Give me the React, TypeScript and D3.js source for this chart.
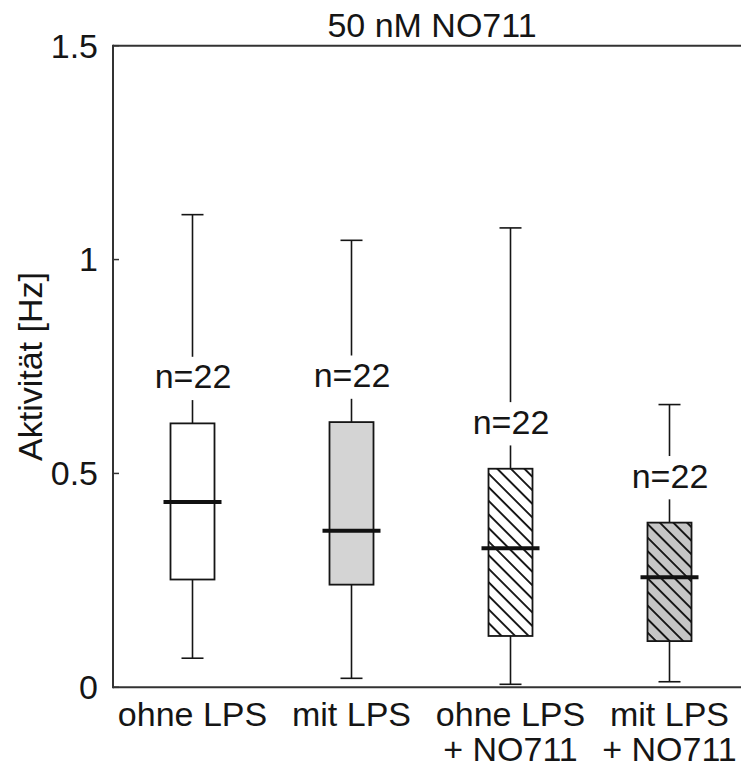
import React from "react";
import * as d3 from "d3";

const labelsLine1 = ["ohne LPS", "mit LPS", "ohne LPS", "mit LPS"];
const labelsLine2 = ["", "", "+ NO711", "+ NO711"];
const whiskerLow = [0.068, 0.021, 0.007, 0.013];
const q1 = [0.252, 0.24, 0.12, 0.108];
const median = [0.433, 0.366, 0.325, 0.257];
const q3 = [0.617, 0.62, 0.511, 0.385];
const whiskerHigh = [1.105, 1.045, 1.074, 0.661];
const nLabels = ["n=22", "n=22", "n=22", "n=22"];
const yTicks = [0, 0.5, 1, 1.5];
const yTickLabels = ["0", "0.5", "1", "1.5"];
const fills = ["#ffffff", "#d4d4d4", "#ffffff", "#c6c6c6"];
const hatched = [false, false, true, true];

const W = 741;
const H = 769;
const FONT = "'Liberation Sans', Arial, sans-serif";
const INK = "#151515";

export default function App() {
  const x = d3.scaleLinear().domain([0.5, 4.5]).range([113, 749]);
  const y = d3.scaleLinear().domain([0, 1.5]).range([687.3, 45.7]);
  const boxW = 44;
  const capW = 22;
  const medW = 58;
  const labelOffset = 35;

  return (
    <div style={{ position: "absolute", left: 0, top: 0 }}>
      <svg width={W} height={H} style={{ display: "block", background: "#fff" }}>
        <defs>
          {[0, 1].map((k) => (
            <pattern
              key={k}
              id={`hatch${k}`}
              patternUnits="userSpaceOnUse"
              width={9.6}
              height={9.6}
              patternTransform="rotate(-45)"
            >
              <rect width={9.6} height={9.6} fill={k === 0 ? "#ffffff" : "#c6c6c6"} />
              <line x1={1} y1={0} x2={1} y2={9.6} stroke="#111" strokeWidth={1.9} />
            </pattern>
          ))}
        </defs>
        {/* axes */}
        <line x1={113} y1={y(1.5)} x2={W} y2={y(1.5)} stroke="#333" strokeWidth={2} />
        <line x1={113} y1={y(0)} x2={W} y2={y(0)} stroke="#333" strokeWidth={2} />
        <line x1={113} y1={y(0) + 1} x2={113} y2={y(1.5) - 1} stroke="#333" strokeWidth={2} />
        {yTicks.map((t, i) => (
          <g key={i}>
            <line x1={113} x2={119} y1={y(t)} y2={y(t)} stroke="#333" strokeWidth={1.5} />
            <text
              x={98}
              y={y(t)}
              dy="0.35em"
              textAnchor="end"
              fontFamily={FONT}
              fontSize={34}
              fill={INK}
            >
              {yTickLabels[i]}
            </text>
          </g>
        ))}
        {/* title */}
        <text x={432} y={36.7} textAnchor="middle" fontFamily={FONT} fontSize={34} fill={INK}>
          50 nM NO711
        </text>
        {/* y label */}
        <text
          transform={`translate(42, ${(y(0) + y(1.5)) / 2}) rotate(-90)`}
          textAnchor="middle"
          fontFamily={FONT}
          fontSize={34}
          fill={INK}
        >
          Aktivität [Hz]
        </text>
        {/* boxes */}
        {median.map((m, i) => {
          const cx = x(i + 1);
          const labelBase = y(q3[i]) - labelOffset;
          return (
            <g key={i}>
              <line x1={cx} x2={cx} y1={y(whiskerHigh[i])} y2={y(q3[i])} stroke={INK} strokeWidth={1.6} />
              <line x1={cx} x2={cx} y1={y(q1[i])} y2={y(whiskerLow[i])} stroke={INK} strokeWidth={1.6} />
              <line x1={cx - capW / 2} x2={cx + capW / 2} y1={y(whiskerHigh[i])} y2={y(whiskerHigh[i])} stroke={INK} strokeWidth={1.6} />
              <line x1={cx - capW / 2} x2={cx + capW / 2} y1={y(whiskerLow[i])} y2={y(whiskerLow[i])} stroke={INK} strokeWidth={1.6} />
              <rect
                x={cx - boxW / 2}
                y={y(q3[i])}
                width={boxW}
                height={y(q1[i]) - y(q3[i])}
                fill={hatched[i] ? `url(#hatch${i === 2 ? 0 : 1})` : fills[i]}
                stroke={INK}
                strokeWidth={1.8}
              />
              <line x1={cx - medW / 2} x2={cx + medW / 2} y1={y(m)} y2={y(m)} stroke="#111" strokeWidth={4} />
              <rect x={cx - 42} y={labelBase - 31.6} width={84} height={43.3} fill="#fff" />
              <text x={cx + 0.5} y={labelBase} textAnchor="middle" fontFamily={FONT} fontSize={34} fill={INK}>
                {nLabels[i]}
              </text>
              <text x={cx} y={726} textAnchor="middle" fontFamily={FONT} fontSize={34} fill={INK}>
                {labelsLine1[i]}
              </text>
              {labelsLine2[i] && (
                <text x={cx} y={761} textAnchor="middle" fontFamily={FONT} fontSize={34} fill={INK}>
                  {labelsLine2[i]}
                </text>
              )}
            </g>
          );
        })}
      </svg>
    </div>
  );
}
